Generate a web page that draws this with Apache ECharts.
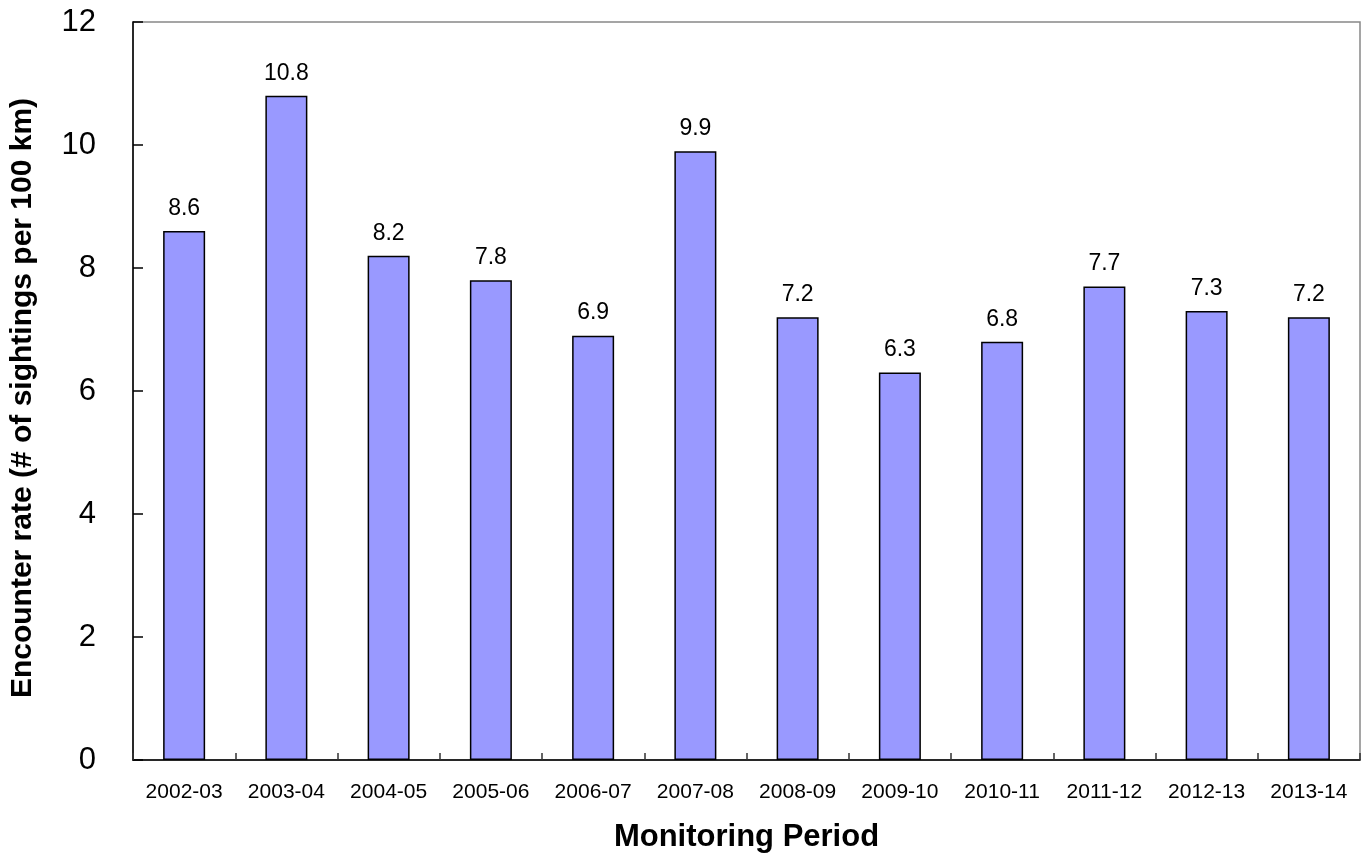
<!DOCTYPE html>
<html><head><meta charset="utf-8">
<script src="https://cdn.jsdelivr.net/npm/echarts@6/dist/echarts.min.js"></script>
<style>html,body{margin:0;padding:0;background:#fff}#c{width:1364px;height:860px}</style>
</head><body><div id="c"></div>
<script>
const categories = ["2002-03","2003-04","2004-05","2005-06","2006-07","2007-08","2008-09","2009-10","2010-11","2011-12","2012-13","2013-14"];
const encounterRate = [8.6,10.8,8.2,7.8,6.9,9.9,7.2,6.3,6.8,7.7,7.3,7.2];
const yTicks = [0,2,4,6,8,10,12];

const chart = echarts.init(document.getElementById('c'));
const F = '"Liberation Sans", Arial, sans-serif';
chart.setOption({
  animation:false,
  grid:{left:132,right:4,top:22,bottom:100,show:true,borderColor:'#888',borderWidth:1.5},
  xAxis:{type:'category',data:categories,
    name:'Monitoring Period',nameLocation:'middle',nameGap:62,
    nameTextStyle:{fontFamily:F,fontSize:31,fontWeight:'bold',color:'#000'},
    axisLine:{lineStyle:{color:'#000',width:1.5}},
    axisTick:{show:true,inside:true,length:7,lineStyle:{color:'#333',width:1.5}},
    axisLabel:{fontFamily:F,fontSize:21,color:'#000',margin:22}},
  yAxis:{type:'value',min:yTicks[0],max:yTicks[yTicks.length-1],interval:2,
    name:'Encounter rate (# of sightings per 100 km)',nameLocation:'middle',nameGap:95,
    nameTextStyle:{fontFamily:F,fontSize:30,fontWeight:'bold',color:'#000',padding:[0,14,0,0]},
    axisLine:{show:true,lineStyle:{color:'#000',width:1.5}},
    axisTick:{show:true,inside:true,length:10,lineStyle:{color:'#000',width:1.5}},
    splitLine:{show:false},
    axisLabel:{fontFamily:F,fontSize:31,color:'#000',margin:37}},
  series:[{type:'bar',data:encounterRate,barWidth:42,
    itemStyle:{color:'#9999FF',borderColor:'#000',borderWidth:1.5},
    label:{show:true,position:'top',distance:11,fontFamily:F,fontSize:23,color:'#000',
      formatter:p=>p.value.toFixed(1)}}]
});
</script></body></html>
